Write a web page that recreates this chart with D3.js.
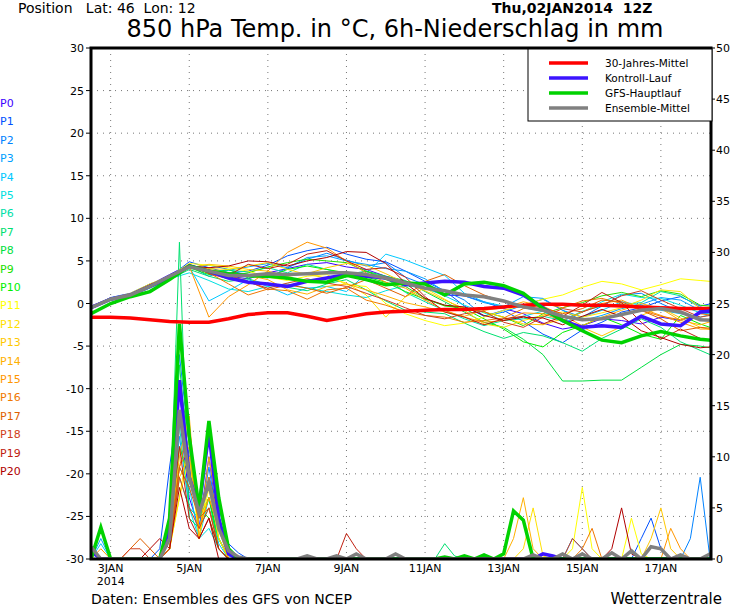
<!DOCTYPE html>
<html><head><meta charset="utf-8">
<script src="https://cdn.jsdelivr.net/npm/d3@7"></script>
<style>body{margin:0;background:#fff}text{font-family:"DejaVu Sans",sans-serif;white-space:pre}</style>
</head><body><svg id="c" width="730" height="609"></svg>
<script>
// 12-hourly temperatures from 02JAN 12Z, 6-hourly precipitation (sparse hour:mm)
var tempHours = d3.range(0, 385, 12);
var precHours = d3.range(0, 385, 6);
var dayTicks = [3,5,7,9,11,13,15,17];

var clim = [-1.6,-1.6,-1.7,-1.9,-2.1,-2.2,-2.2,-1.8,-1.3,-1.1,-1.1,-1.5,-2.0,-1.6,-1.2,-1.0,-0.9,-0.8,-0.7,-0.7,-0.6,-0.4,-0.2,-0.1,-0.1,-0.2,-0.2,-0.3,-0.4,-0.5,-0.6,-0.6,-0.6];
var control = [-0.5,0.5,1.0,2.0,3.0,4.4,3.8,3.0,2.5,2.3,2.0,2.6,3.0,3.4,3.2,3.0,2.2,2.4,2.6,2.5,2.0,1.8,1.0,-0.5,-2.0,-2.8,-2.6,-2.8,-1.5,-2.4,-2.6,-1.0,-0.8];
var gfs = [-1.2,0,0.8,1.4,2.8,4.4,3.8,3.5,3.3,3.2,3.0,2.6,2.5,3.3,2.8,2.2,2.4,2.3,1.0,2.3,2.5,2.1,1.2,-0.6,-2.0,-3.2,-4.3,-4.6,-3.8,-3.3,-3.8,-4.2,-4.4];
var ensMean = [-0.5,0.5,1.0,2.0,3.2,4.3,3.8,3.3,3.3,3.5,3.4,3.5,3.6,3.6,3.4,3.0,2.4,1.8,1.5,1.0,0.8,0.3,-0.4,-0.8,-1.5,-1.9,-1.8,-1.3,-0.8,-0.6,-1.0,-1.9,-2.0];

var controlPrec = {0:0.8,48:3,54:17.5,60:8,66:5,72:12.4,78:4,84:0.5,276:0.5,282:0.3};
var gfsPrec = {6:3.1,48:4,54:23,60:12,66:5,72:13.5,78:6,84:1,216:0.2,228:0.3,240:0.4,252:0.5,258:4.7,264:3.8};
var meanPrec = {0:1.2,48:2,54:14.6,60:8,66:4.5,72:7.4,78:3,84:0.8,90:0.2,132:0.3,150:0.3,162:0.5,186:0.5,270:0.4,288:0.5,300:0.5,318:0.6,330:0.8,342:1.2,348:1.0,360:0.4,378:0.5};

var memberColors = ["#3c00ff","#0050ff","#0082ff","#00a0ff","#00c8ff","#00e0e0","#00e0a8","#00e070","#00e040","#20e000","#00f000","#ffff00","#ffe000","#ffc800","#ffb000","#ff9600","#f07800","#e06000","#d04020","#c02010","#b00000"];
var memberTemps = [
[-0.3,0.6,1.1,2.2,3.4,4.6,3.9,3.2,2.9,3.6,4.1,4.6,4.8,4.3,4.0,3.2,2.6,1.8,1.0,0.9,0.2,-0.6,-1.2,-2.3,-3.0,-2.6,-1.8,-2.0,-2.4,-1.6,-2.0,-1.2,-1.0],
[-0.4,0.7,1.2,2.3,3.1,4.9,4.2,3.6,3.8,4.5,5.6,6.2,6.6,5.8,5.2,4.9,3.8,2.6,1.5,-0.3,-1.5,-0.8,-2.1,-3.6,-4.6,-3.1,-2.2,-1.0,-0.5,0.3,0.8,-0.3,0.2],
[-0.5,0.5,1.0,2.0,2.8,4.2,4.5,4.0,3.2,3.0,4.2,5.2,5.9,5.1,4.4,4.8,3.1,2.2,1.5,0.4,-1.5,-1.0,-0.2,0.5,-0.8,-1.6,-0.3,1.0,1.2,0.0,-1.0,-1.8,-2.2],
[-0.4,0.6,1.1,2.1,3.0,4.4,3.2,3.9,4.3,4.7,4.2,5.4,5.6,5.0,4.6,4.1,3.8,2.9,1.4,0.9,0.1,-0.4,0.8,0.6,-0.8,-2.0,-1.4,-0.6,-0.1,0.7,0.4,-0.8,-0.5],
[-0.4,0.5,1.0,2.1,3.0,4.3,0.3,1.5,2.8,2.0,1.0,1.8,2.0,1.4,3.5,5.8,5.1,4.2,3.3,1.2,0.2,-0.3,-0.5,-0.9,-2.2,-1.6,-0.8,0.2,-0.2,-0.8,-1.2,-1.6,-1.0],
[-0.5,0.4,0.9,1.8,2.9,3.6,2.7,1.7,1.4,2.0,2.3,1.8,1.4,1.0,0.7,1.5,2.1,1.8,0.9,-0.2,-1.1,-2.0,-1.5,-0.9,-2.1,-1.0,0.2,1.1,0.7,0.6,-0.2,-1.1,-1.4],
[-0.5,0.5,1.0,2.0,3.1,4.5,3.8,3.9,3.7,4.2,3.6,4.6,4.0,3.4,3.8,3.0,1.3,0.2,-0.8,-1.8,-2.6,-2.0,-1.8,-1.5,-2.0,-0.9,-0.3,-0.1,0.1,1.4,0.9,-0.5,-0.8],
[-0.6,0.4,0.9,1.9,2.8,4.0,3.2,2.6,2.9,2.2,1.9,1.5,2.3,2.8,1.6,0.3,-0.8,-1.0,-1.2,-2.3,-3.3,-4.1,-3.4,-3.8,-4.6,-5.6,-4.1,-3.0,-1.8,-2.8,-4.5,-5.5,-6.5],
[-0.5,0.6,1.1,2.1,3.2,4.6,3.5,4.0,3.0,3.3,2.8,2.5,2.6,3.1,3.8,3.2,2.7,1.4,0.2,-1.0,-2.2,-2.8,-4.2,-6.0,-9.1,-9.1,-9.0,-9.0,-7.5,-6.0,-4.8,-5.0,-5.4],
[-0.5,0.5,1.0,2.0,3.0,4.3,3.9,3.2,3.6,4.3,4.8,5.2,5.0,4.8,3.8,2.8,2.0,0.6,-0.3,-0.5,-1.0,-1.6,-2.6,-1.2,-0.5,0.1,0.9,1.3,0.8,1.5,1.1,-0.2,-0.4],
[-0.4,0.6,1.1,2.2,3.1,4.2,3.4,3.6,3.4,3.1,4.0,4.4,4.0,3.6,3.1,2.5,1.4,0.5,-0.2,-0.6,-1.8,-3.0,-4.5,-5.1,-3.4,-2.6,-1.6,-2.5,-3.6,-4.2,-1.4,-2.4,-3.2],
[-0.4,0.6,1.2,2.3,3.2,4.7,4.5,4.2,3.8,3.1,2.7,3.2,3.4,2.2,2.0,0.0,-1.2,-2.0,-2.6,-2.3,-1.6,-0.8,-0.2,0.5,1.0,1.9,2.6,2.3,1.6,2.2,2.9,2.7,2.5],
[-0.5,0.5,1.0,2.1,3.0,4.4,4.1,4.0,4.4,4.8,4.0,3.4,3.0,2.4,1.0,-1.6,0.8,1.8,0.5,-0.8,-2.4,-2.8,-2.0,-1.4,-1.0,-1.6,-1.1,-0.5,0.4,1.6,1.4,-0.6,-1.1],
[-0.4,0.6,1.1,2.2,3.1,4.2,4.6,4.4,4.0,3.8,3.2,3.5,4.2,4.7,4.5,3.5,2.4,1.5,0.4,-0.6,-1.0,-1.6,-2.4,-2.5,-1.8,-2.8,-3.8,-2.7,-1.4,-0.5,-1.7,-2.8,-3.3],
[-0.5,0.5,1.0,2.1,3.0,4.4,4.0,3.6,3.3,2.8,1.6,1.1,2.0,2.3,1.6,0.9,0.1,-0.4,-1.0,-1.5,-0.8,-0.5,0.2,-0.3,-1.4,-2.6,-1.6,-0.8,0.0,-0.6,-2.0,-2.5,-1.8],
[-0.4,0.6,1.1,2.2,3.2,4.4,-1.6,0.8,2.2,3.8,6.0,7.2,6.5,5.0,3.6,2.5,1.8,0.4,-0.8,-1.6,-2.2,-2.0,-1.1,-1.2,-2.0,-1.0,0.0,0.4,-0.6,-1.4,-2.2,-3.0,-3.0],
[-0.5,0.5,1.0,2.1,3.1,4.3,3.6,2.3,1.0,1.7,1.5,0.5,1.6,1.8,0.4,-0.2,-1.0,-1.4,-1.6,-2.2,-2.0,-1.7,-0.6,0.0,-0.5,0.3,0.6,0.0,-0.8,-1.5,-1.9,-1.2,-1.5],
[-0.5,0.6,1.1,2.2,3.2,4.3,3.6,3.3,2.6,1.6,2.2,1.8,1.2,1.9,2.8,1.8,0.8,2.6,3.4,2.1,1.0,0.2,-0.2,-0.5,-1.2,-0.6,0.4,0.2,-0.8,-1.8,-3.2,-2.8,-3.0],
[-0.4,0.5,1.0,2.1,3.0,4.6,3.5,2.9,2.5,1.8,2.4,2.9,2.4,2.0,1.2,0.4,-0.5,-1.4,-1.8,-1.2,-0.9,-2.2,-2.8,-1.6,-0.6,-1.0,-0.2,0.9,1.5,0.4,-0.6,-1.6,-1.2],
[-0.5,0.6,1.1,2.2,3.1,4.5,3.8,3.3,4.6,4.1,4.6,5.8,6.2,5.0,4.0,4.2,3.1,0.8,-1.0,-1.6,-2.5,-1.8,-1.5,-2.4,-1.5,-0.2,1.3,0.1,-2.2,-4.2,-3.0,-4.1,-4.6],
[-0.5,0.5,1.0,2.0,3.1,4.4,4.2,4.4,5.0,4.9,4.4,5.0,5.4,6.1,6.0,4.7,2.4,0.6,-0.2,-0.4,-1.4,-2.0,-1.6,-1.7,-2.5,-1.5,-0.7,-1.5,-3.2,-4.0,-4.8,-5.2,-5.0]
];
var memberPrec = [
{0:1,48:2,54:14,60:6,66:3,72:10,78:3,84:0.4},
{42:1,48:9,54:16,60:10,66:4,72:8,78:5,84:1.5,90:0.6,336:2,342:4,348:1},
{0:0.5,48:3,54:20,60:11,66:3,72:9,78:3,84:0.5,366:2,372:8},
{6:2,48:3,54:12,60:5,66:4,72:7,78:2,84:0.3,294:2,300:1},
{6:1.5,48:2,54:9,60:7,66:2,72:6,78:1.5},
{48:1,54:8,60:5,66:2,72:3,78:1},
{48:2,54:13,60:5,66:4,72:6,78:2},
{48:3,54:31,60:4,66:3,72:5,78:2,216:1.5,222:0.3},
{48:2,54:19,60:9,66:4,72:6,78:1},
{48:1,54:11,60:8,66:5,72:4,78:1},
{48:2,54:17,60:12,66:3,72:6,78:2},
{48:1,54:6,60:10,66:2,72:7,78:2,294:1,300:7,306:1,330:4,336:0.5},
{48:1,54:6,60:12,66:2,72:8,78:2,264:1,270:5,276:0.3},
{48:1,54:8,60:10,66:3,72:6,78:3,342:2,348:5,354:1},
{48:2,54:10,60:14,66:2,72:10,78:4,258:2,264:6,270:1},
{6:1,48:1,54:9,60:11,66:3,72:6,78:3,354:3,360:1},
{48:2,54:9,60:13,66:4,72:8,78:4,84:1,300:1,306:3},
{24:1,30:2,36:1,48:1,54:9,60:7,66:4,72:5,78:1},
{24:1,30:1,48:1,54:8,60:5,66:3,72:5,78:1,294:2,300:1},
{48:3,54:11,60:4,66:2,72:4,78:1,156:2.5,162:1},
{36:1,42:2,48:1,54:7,60:3,66:2,72:4,318:1,324:5,330:0.5}
];
var legendNames = ["30-Jahres-Mittel","Kontroll-Lauf","GFS-Hauptlauf","Ensemble-Mittel"];
var legendColors = ["#ff0000","#3c14ff","#00d200","#808080"];

var svg = d3.select("#c");
var L = 91, R = 711, T = 48, B = 559;
var x = d3.scaleLinear().domain([0, 378.6]).range([L, R]);
var yT = d3.scaleLinear().domain([-30, 30]).range([B, T]);
var yP = d3.scaleLinear().domain([0, 50]).range([B, T]);

svg.append("clipPath").attr("id", "clip").append("rect")
  .attr("x", L).attr("y", T).attr("width", R - L).attr("height", B - T);

// grid
var g = svg.append("g");
g.selectAll(".gy").data(d3.range(-25, 30, 5)).enter().append("line")
  .attr("x1", L).attr("x2", R).attr("y1", d => yT(d)).attr("y2", d => yT(d))
  .attr("stroke", "#777").attr("stroke-dasharray", "1,5");
g.selectAll(".gx").data(dayTicks).enter().append("line")
  .attr("y1", T).attr("y2", B).attr("x1", d => x((d - 2.5) * 24)).attr("x2", d => x((d - 2.5) * 24))
  .attr("stroke", "#777").attr("stroke-dasharray", "1,5");

function full(sparse) { return precHours.map(h => sparse[h] || 0); }
var tLine = d3.line().x((d, i) => x(tempHours[i])).y(d => yT(d));
var pLine = d3.line().x((d, i) => x(precHours[i])).y(d => yP(d));

var plot = svg.append("g").attr("clip-path", "url(#clip)");
memberTemps.forEach(function(m, i) {
  plot.append("path").attr("d", tLine(m)).attr("fill", "none").attr("stroke", memberColors[i]).attr("stroke-width", 1);
  plot.append("path").attr("d", pLine(full(memberPrec[i]))).attr("fill", "none").attr("stroke", memberColors[i]).attr("stroke-width", 1);
});
plot.append("path").attr("d", tLine(clim)).attr("fill", "none").attr("stroke", legendColors[0]).attr("stroke-width", 3.5);
[[control, controlPrec, 1], [gfs, gfsPrec, 2], [ensMean, meanPrec, 3]].forEach(function(s) {
  plot.append("path").attr("d", tLine(s[0])).attr("fill", "none").attr("stroke", legendColors[s[2]]).attr("stroke-width", 3.5);
  plot.append("path").attr("d", pLine(full(s[1]))).attr("fill", "none").attr("stroke", legendColors[s[2]]).attr("stroke-width", 3.5);
});

// frame
svg.append("rect").attr("x", L).attr("y", T).attr("width", R - L).attr("height", B - T)
  .attr("fill", "none").attr("stroke", "#000").attr("stroke-width", 3);

// axes
var ax = svg.append("g").style("font-size", "11px");
ax.selectAll(".lt").data(d3.range(-30, 31, 5)).enter().append("text")
  .attr("x", 84).attr("y", d => yT(d) + 4).attr("text-anchor", "end").text(d => d);
ax.selectAll(".lk").data(d3.range(-30, 31, 5)).enter().append("line")
  .attr("x1", 86).attr("x2", L).attr("y1", d => yT(d)).attr("y2", d => yT(d)).attr("stroke", "#000");
ax.selectAll(".rt").data(d3.range(0, 51, 5)).enter().append("text")
  .attr("x", 716).attr("y", d => yP(d) + 4).text(d => d);
ax.selectAll(".rk").data(d3.range(0, 51, 5)).enter().append("line")
  .attr("x1", R).attr("x2", R + 4).attr("y1", d => yP(d)).attr("y2", d => yP(d)).attr("stroke", "#000");
ax.selectAll(".xt").data(dayTicks).enter().append("text")
  .attr("x", d => x((d - 2.5) * 24)).attr("y", 572).attr("text-anchor", "middle").text(d => d + "JAN");
ax.append("text").attr("x", x(12)).attr("y", 585).attr("text-anchor", "middle").text("2014");

// member labels
svg.append("g").style("font-size", "11px").selectAll("text").data(memberColors).enter().append("text")
  .attr("x", 0).attr("y", (d, i) => 107 + i * 18.4).attr("fill", d => d).text((d, i) => "P" + i);

// legend
var lg = svg.append("g");
lg.append("rect").attr("x", 528).attr("y", 49).attr("width", 184).attr("height", 72).attr("fill", "#fff").attr("stroke", "#000");
legendNames.forEach(function(n, i) {
  var yy = 63 + i * 15;
  lg.append("line").attr("x1", 549).attr("x2", 588).attr("y1", yy).attr("y2", yy).attr("stroke", legendColors[i]).attr("stroke-width", 3.5);
  lg.append("text").attr("x", 605).attr("y", yy + 4).style("font-size", "10.5px").text(n);
});

// titles
svg.append("text").attr("x", 18).attr("y", 13).style("font-size", "14px").text("Position   Lat: 46  Lon: 12");
svg.append("text").attr("x", 492).attr("y", 13).style("font-size", "14px").style("font-weight", "bold").text("Thu,02JAN2014  12Z");
svg.append("text").attr("x", 395).attr("y", 37).attr("text-anchor", "middle").style("font-size", "24px").text("850 hPa Temp. in °C, 6h-Niederschlag in mm");
svg.append("text").attr("x", 91).attr("y", 604).style("font-size", "14px").text("Daten: Ensembles des GFS von NCEP");
svg.append("text").attr("x", 722).attr("y", 604).attr("text-anchor", "end").style("font-size", "15px").text("Wetterzentrale");
</script></body></html>
